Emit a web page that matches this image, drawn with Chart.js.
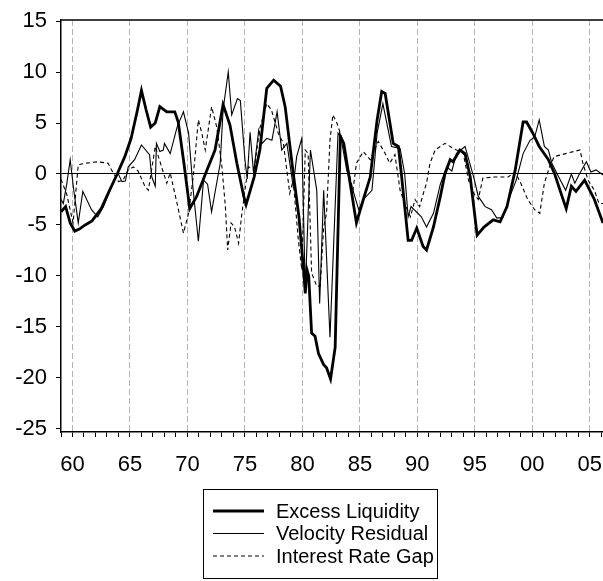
<!DOCTYPE html>
<html>
<head>
<meta charset="utf-8">
<script src="https://cdn.jsdelivr.net/npm/chart.js@4/dist/chart.umd.min.js"></script>
<style>
  body { margin: 0; background: #fff; }
  canvas { display: block; }
</style>
</head>
<body>
<canvas id="grafica" width="603" height="581"></canvas>
<script>
// values (year, value)
const liquidityYears = [1959.0, 1959.4, 1959.8, 1960.2, 1960.6, 1961.1, 1961.7, 1962.5, 1963.1, 1963.85, 1964.55, 1965.1, 1965.6, 1966.0, 1966.4, 1966.8, 1967.2, 1967.6, 1968.2, 1968.9, 1969.2, 1969.7, 1970.2, 1970.8, 1971.7, 1972.4, 1973.1, 1973.7, 1974.3, 1974.9, 1975.1, 1975.8, 1976.3, 1976.9, 1977.5, 1978.1, 1978.5, 1979.2, 1979.7, 1980.1, 1980.25, 1980.4, 1980.55, 1980.8, 1981.1, 1981.4, 1981.85, 1982.1, 1982.45, 1982.85, 1983.3, 1983.6, 1984.15, 1984.7, 1985.3, 1985.9, 1986.5, 1986.9, 1987.2, 1987.9, 1988.35, 1988.6, 1989.2, 1989.5, 1989.95, 1990.5, 1990.8, 1991.4, 1992.0, 1992.4, 1992.85, 1993.1, 1993.7, 1994.15, 1994.6, 1995.2, 1995.8, 1996.6, 1997.2, 1997.8, 1998.5, 1999.2, 1999.5, 2000.05, 2000.6, 2001.4, 2001.95, 2002.5, 2002.95, 2003.4, 2003.8, 2004.55, 2005.4, 2006.15];
const liquidityValues = [-3.7, -3.2, -4.8, -5.6, -5.4, -5.0, -4.6, -3.4, -1.9, -0.1, 1.7, 3.5, 6.0, 8.2, 6.3, 4.6, 5.0, 6.6, 6.1, 6.1, 5.1, 1.0, -3.4, -2.2, 0.4, 2.35, 6.8, 4.8, 1.05, -2.2, -3.0, -0.3, 2.35, 8.4, 9.2, 8.6, 6.6, 0.1, -4.2, -9.4, -11.7, -9.4, -10.0, -15.6, -15.9, -17.6, -18.7, -19.0, -20.1, -17.0, 3.7, 3.0, -0.9, -4.8, -2.5, -0.3, 5.3, 8.1, 7.9, 3.0, 2.7, 0.1, -6.5, -6.5, -5.3, -7.1, -7.45, -5.2, -2.2, 0.0, 1.4, 1.2, 2.35, 2.0, -0.3, -6.0, -5.2, -4.5, -4.7, -3.2, 0.3, 5.1, 5.1, 4.0, 2.7, 1.4, 0.0, -1.9, -3.4, -1.2, -1.7, -0.6, -2.5, -4.8];

const velocityYears = [1959.0, 1959.2, 1959.5, 1959.8, 1960.1, 1960.5, 1960.9, 1961.65, 1962.2, 1962.7, 1963.3, 1963.95, 1964.3, 1964.6, 1964.85, 1965.4, 1966.0, 1966.7, 1966.9, 1967.2, 1967.3, 1967.6, 1967.9, 1968.0, 1968.5, 1969.1, 1969.65, 1970.1, 1970.5, 1970.95, 1971.4, 1971.75, 1972.1, 1972.85, 1973.1, 1973.55, 1973.85, 1974.35, 1974.6, 1975.0, 1975.2, 1975.45, 1975.75, 1976.2, 1976.5, 1976.9, 1977.35, 1977.8, 1978.2, 1978.65, 1979.2, 1979.5, 1979.95, 1980.25, 1980.7, 1981.25, 1981.5, 1981.85, 1982.4, 1983.1, 1983.35, 1983.85, 1984.4, 1984.9, 1985.3, 1986.05, 1986.5, 1987.0, 1987.75, 1988.5, 1988.9, 1989.2, 1989.45, 1990.35, 1990.8, 1991.4, 1992.0, 1992.55, 1993.0, 1993.4, 1994.15, 1994.9, 1995.3, 1995.9, 1996.45, 1996.9, 1997.4, 1998.05, 1998.6, 1999.2, 1999.8, 2000.2, 2000.6, 2001.05, 2001.4, 2001.7, 2002.3, 2002.9, 2003.4, 2003.7, 2004.1, 2004.7, 2005.1, 2005.55, 2006.15];
const velocityValues = [-2.5, -2.9, -1.0, 1.4, -1.5, -4.8, -1.7, -3.5, -4.2, -3.2, -1.5, 0.1, -0.75, -0.7, 0.7, 1.4, 2.85, 1.9, -0.3, -1.2, 3.0, 2.2, 2.35, 3.0, 2.0, 4.6, 6.1, 4.0, -1.6, -6.6, -0.6, -1.0, -3.7, 1.05, 6.3, 10.0, 5.8, 7.4, 7.2, 1.4, -0.5, 4.1, 0.1, 4.3, 3.0, 3.5, 3.3, 6.1, 2.35, 3.0, -1.2, 1.7, 3.5, -11.5, 2.35, -1.6, -12.7, -1.6, -16.0, 4.0, 3.6, 0.4, -1.6, -3.5, -2.5, -1.6, 4.0, 6.9, 2.7, 2.5, 0.0, -4.2, -3.2, -4.2, -5.2, -3.85, -1.0, 0.7, 0.3, 2.0, 2.7, -0.3, -2.2, -3.2, -3.5, -4.3, -4.3, -2.2, -0.6, 2.0, 3.3, 3.6, 5.3, 2.7, 2.35, 1.05, -0.3, -1.6, 0.0, -0.9, 0.0, 1.2, 0.2, 0.4, -0.1];

const gapYears = [1959.0, 1959.5, 1960.05, 1960.5, 1961.1, 1962.2, 1963.1, 1963.4, 1964.0, 1964.4, 1964.85, 1965.3, 1965.7, 1966.3, 1966.6, 1967.2, 1967.75, 1968.2, 1968.5, 1969.1, 1969.65, 1970.1, 1970.5, 1970.95, 1971.25, 1971.55, 1972.1, 1972.55, 1973.0, 1973.3, 1973.5, 1973.8, 1974.1, 1974.45, 1974.7, 1975.0, 1975.3, 1975.8, 1976.3, 1976.9, 1977.3, 1977.9, 1978.35, 1978.9, 1979.2, 1979.65, 1979.95, 1980.25, 1980.5, 1980.8, 1981.25, 1981.55, 1981.85, 1982.1, 1982.4, 1982.65, 1983.0, 1983.6, 1984.0, 1984.4, 1984.7, 1985.3, 1985.9, 1986.6, 1987.2, 1987.6, 1988.05, 1988.5, 1988.9, 1989.4, 1989.8, 1990.2, 1990.6, 1990.8, 1991.1, 1991.55, 1992.0, 1992.4, 1993.15, 1994.0, 1994.45, 1994.9, 1995.3, 1995.7, 1996.6, 1997.9, 1998.5, 1999.0, 1999.6, 2000.2, 2000.65, 2001.05, 2001.5, 2001.9, 2002.9, 2003.6, 2004.15, 2004.4, 2004.85, 2005.4, 2005.8, 2006.15];
const gapValues = [-0.5, -2.0, -4.8, 0.9, 1.05, 1.2, 1.05, 0.4, -0.75, -0.6, 0.4, 0.7, 0.3, -1.2, -1.6, 2.7, 0.7, -0.9, 0.1, -2.9, -5.8, -3.85, -0.3, 5.3, 4.0, 2.35, 6.6, 4.6, 0.7, -3.2, -7.45, -4.8, -5.2, -6.8, -4.2, -1.6, 0.7, 0.5, 4.5, 6.9, 6.3, 4.0, 3.0, -1.9, -0.6, -6.5, -9.4, 2.35, 2.0, -9.7, -11.0, -11.0, -5.2, -3.85, 3.3, 5.8, 5.0, 3.0, 0.4, -1.6, 1.05, 2.2, 1.4, 3.2, 2.0, 1.05, 1.9, -1.6, -2.9, -4.2, -2.5, -3.2, -1.6, -0.9, 1.05, 2.35, 2.7, 3.0, 2.5, 2.0, -0.6, -1.9, -2.5, -0.4, -0.3, -0.3, 0.2, -0.9, -2.5, -3.5, -3.85, -0.9, 0.7, 1.7, 2.0, 2.2, 2.35, 1.05, -0.6, -1.6, -2.9, -2.9];

const seriesNames = ["Excess Liquidity", "Velocity Residual", "Interest Rate Gap"];
const yTicks = [-25, -20, -15, -10, -5, 0, 5, 10, 15];
const xTickYears = [];
for (let a = 1959; a <= 2006; a++) xTickYears.push(a);

function puntos(anios, valores) {
  return anios.map((a, i) => ({ x: a, y: valores[i] }));
}

const fuente = '"Liberation Sans", Arial, sans-serif';

// caja de leyenda y borde superior
const cajaLeyenda = {
  id: "cajaLeyenda",
  afterDraw(chart) {
    const ctx = chart.ctx;
    const area = chart.chartArea;
    ctx.save();
    ctx.strokeStyle = "#000";
    ctx.lineWidth = 1.5;
    ctx.beginPath();
    ctx.moveTo(area.left, area.top);
    ctx.lineTo(area.right, area.top);
    ctx.stroke();

    ctx.lineWidth = 1;
    ctx.strokeRect(203.5, 489.5, 234, 89);
    chart.data.datasets.forEach((ds, i) => {
      const y = 511 + i * 22.5;
      ctx.beginPath();
      ctx.setLineDash(ds.borderDash || []);
      ctx.lineWidth = ds.borderWidth;
      ctx.moveTo(213, y);
      ctx.lineTo(264, y);
      ctx.stroke();
      ctx.setLineDash([]);
      ctx.fillStyle = "#000";
      ctx.font = "20px " + fuente;
      ctx.textBaseline = "middle";
      ctx.textAlign = "left";
      ctx.fillText(ds.label, 276, y + 1);
    });
    ctx.restore();
  }
};

new Chart(document.getElementById("grafica"), {
  type: "line",
  data: {
    datasets: [
      { label: seriesNames[0], data: puntos(liquidityYears, liquidityValues), borderColor: "#000", borderWidth: 2.8 },
      { label: seriesNames[1], data: puntos(velocityYears, velocityValues), borderColor: "#000", borderWidth: 1.1 },
      { label: seriesNames[2], data: puntos(gapYears, gapValues), borderColor: "#000", borderWidth: 1.1, borderDash: [4, 3] }
    ]
  },
  options: {
    responsive: false,
    animation: false,
    events: [],
    layout: { padding: { top: 20, right: 0, left: 0, bottom: 0 } },
    elements: {
      point: { radius: 0 },
      line: { tension: 0, fill: false }
    },
    plugins: {
      legend: { display: false },
      tooltip: { enabled: false }
    },
    scales: {
      x: {
        type: "linear",
        min: 1959,
        max: 2006.15,
        afterBuildTicks: (s) => { s.ticks = xTickYears.map(v => ({ value: v })); },
        afterFit: (s) => { s.height = 149; s.paddingLeft = 0; s.paddingRight = 0; },
        ticks: {
          autoSkip: false,
          maxRotation: 0,
          padding: 15,
          color: "#000",
          font: { family: fuente, size: 22 },
          callback: (v) => (v % 5 === 0 ? String(v).slice(2) : "")
        },
        grid: {
          color: (c) => (c.tick && c.tick.value % 5 === 0 ? "#b4b4b4" : "rgba(0,0,0,0)"),
          lineWidth: 1,
          tickColor: "#000",
          tickLength: 5,
          tickWidth: 1
        },
        border: { display: true, color: "#000", width: 1.5, dash: [6, 3] }
      },
      y: {
        type: "linear",
        min: -25.3,
        max: 15.1,
        afterBuildTicks: (s) => { s.ticks = yTicks.map(v => ({ value: v })); },
        afterFit: (s) => { s.width = 61; s.paddingTop = 0; s.paddingBottom = 0; },
        ticks: {
          padding: 9,
          color: "#000",
          font: { family: fuente, size: 22 }
        },
        grid: {
          color: (c) => (c.tick && c.tick.value === 0 ? "#000" : "rgba(0,0,0,0)"),
          lineWidth: 1,
          tickColor: "#000",
          tickLength: 5,
          tickWidth: 1
        },
        border: { display: true, color: "#000", width: 1.5 }
      }
    }
  },
  plugins: [cajaLeyenda]
});
</script>
</body>
</html>
